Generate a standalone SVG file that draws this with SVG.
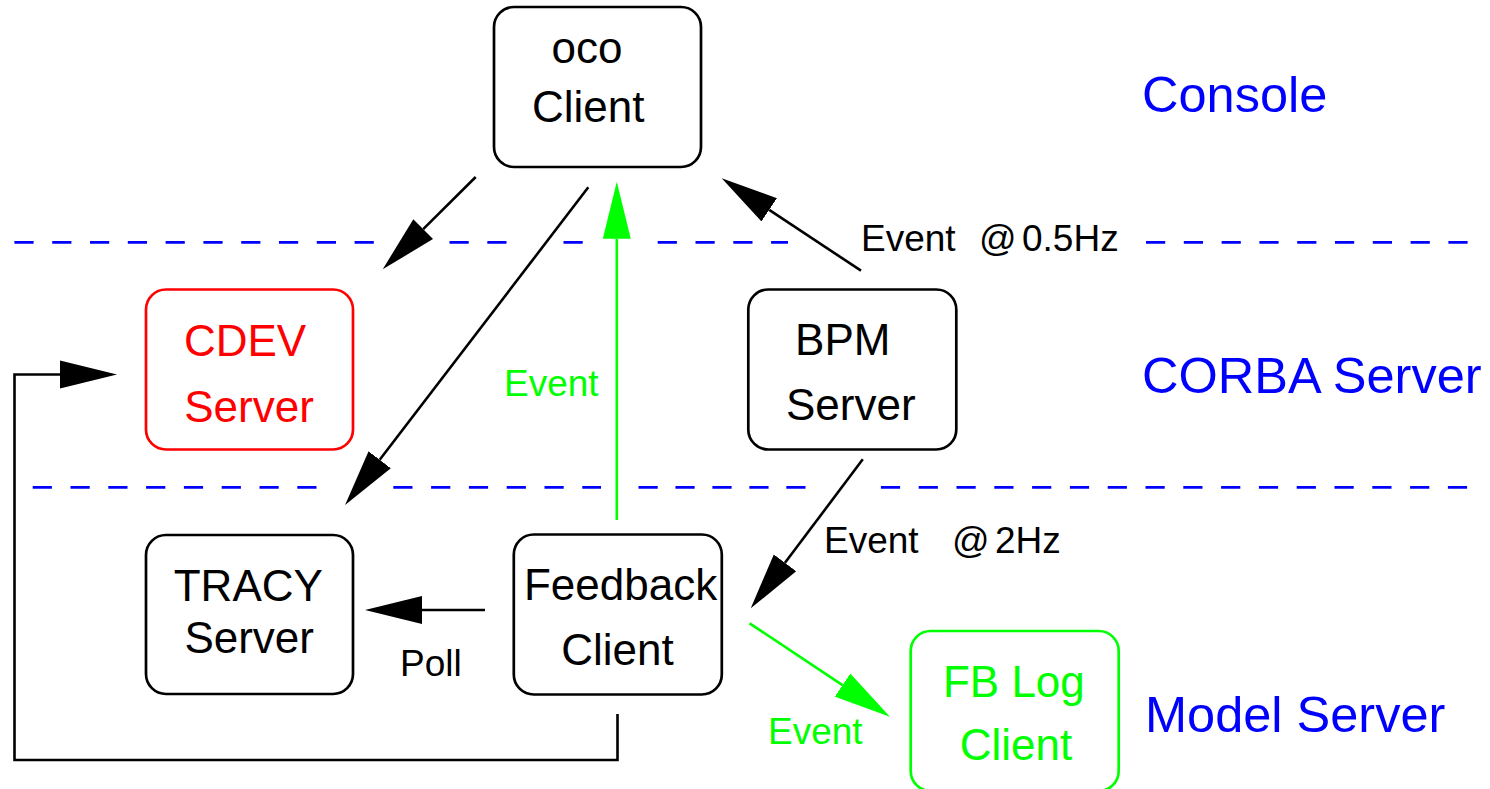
<svg xmlns="http://www.w3.org/2000/svg" width="1490" height="789" viewBox="0 0 1490 789">
<style>
  text { font-family: "Liberation Sans", Arial, Helvetica, sans-serif; }
  .box { fill: #ffffff; stroke-width: 2.7; }
  .node { font-size: 44px; text-anchor: middle; }
  .region { font-size: 50.5px; fill: #0000ff; }
  .lbl { font-size: 37px; }
  .dash { stroke: #0000ff; stroke-width: 2.7; fill: none; stroke-dasharray: 19.2 18.6; }
  .conn { stroke: #000000; stroke-width: 2.6; fill: none; }
  .gconn { stroke: #00ff00; stroke-width: 2.6; fill: none; }
</style>
<defs>
  <marker id="ah" markerUnits="userSpaceOnUse" markerWidth="58" markerHeight="29" viewBox="0 0 58 29" refX="0" refY="14.5" orient="auto">
    <path d="M0,0.5 L57,14.5 L0,28.5 Z" fill="#000000"/>
  </marker>
  <marker id="ahg" markerUnits="userSpaceOnUse" markerWidth="58" markerHeight="29" viewBox="0 0 58 29" refX="0" refY="14.5" orient="auto">
    <path d="M0,0.5 L57,14.5 L0,28.5 Z" fill="#00ff00"/>
  </marker>
</defs>
<rect width="1490" height="789" fill="#ffffff"/>

<g id="separators">
  <path class="dash" d="M14.4,242.3 H374 M449.5,242.3 H506.7 M563.5,242.3 H582.7 M657.7,242.3 H788 M1146,242.3 H1467.6"/>
  <path class="dash" d="M32.7,487.3 H317.3 M393.3,487.3 H601 M880.9,487.3 H1467.4"/>
  <path class="dash" style="stroke-dasharray:19.2 17.75" d="M638.5,487.3 H805.5"/>
</g>

<g id="regions">
  <text class="region" x="1142" y="111.5">Console</text>
  <text class="region" x="1142" y="393.3">CORBA Server</text>
  <text class="region" x="1145" y="732.3">Model Server</text>
</g>

<g id="connectors">
  <line class="conn" x1="475.7" y1="177" x2="423.2" y2="229.1" marker-end="url(#ah)"/>
  <line class="conn" x1="588.3" y1="187.3" x2="379.7" y2="459.8" marker-end="url(#ah)"/>
  <line class="gconn" x1="616.8" y1="520" x2="616.8" y2="238.7" marker-end="url(#ahg)"/>
  <line class="conn" x1="861" y1="270.7" x2="769.2" y2="209.8" marker-end="url(#ah)"/>
  <line class="conn" x1="862.8" y1="459.3" x2="785" y2="562.8" marker-end="url(#ah)"/>
  <line class="conn" x1="485" y1="610" x2="422" y2="610" marker-end="url(#ah)"/>
  <line class="gconn" x1="749.6" y1="623.3" x2="842.5" y2="685.1" marker-end="url(#ahg)"/>
  <polyline class="conn" points="617.5,714 617.5,760 14.5,760 14.5,374.5 60,374.5" marker-end="url(#ah)"/>
  <text class="lbl" x="861" y="251"><tspan>Event</tspan><tspan x="979">@</tspan><tspan x="1022">0.5Hz</tspan></text>
  <text class="lbl" x="504" y="396" fill="#00ff00">Event</text>
  <text class="lbl" x="824" y="553"><tspan>Event</tspan><tspan x="952">@</tspan><tspan x="995">2Hz</tspan></text>
  <text class="lbl" x="400" y="676">Poll</text>
  <text class="lbl" x="768" y="744" fill="#00ff00">Event</text>
</g>

<g id="oco-client">
  <rect class="box" x="494" y="7" width="207" height="160" rx="20" stroke="#000000"/>
  <text class="node" x="587" y="63.3">oco</text>
  <text class="node" x="588.3" y="121.7">Client</text>
</g>

<g id="cdev-server">
  <rect class="box" x="146" y="289.5" width="207" height="160" rx="20" stroke="#ff0000"/>
  <text class="node" x="245" y="356" fill="#ff0000">CDEV</text>
  <text class="node" x="249" y="421.7" fill="#ff0000">Server</text>
</g>

<g id="bpm-server">
  <rect class="box" x="748.3" y="289.5" width="208" height="160" rx="20" stroke="#000000"/>
  <text class="node" x="842.8" y="355">BPM</text>
  <text class="node" x="850.8" y="420">Server</text>
</g>

<g id="tracy-server">
  <rect class="box" x="146" y="535" width="207" height="159" rx="20" stroke="#000000"/>
  <text class="node" x="248.3" y="600.7">TRACY</text>
  <text class="node" x="249.2" y="653.3">Server</text>
</g>

<g id="feedback-client">
  <rect class="box" x="513.8" y="534.5" width="208" height="160" rx="20" stroke="#000000"/>
  <text class="node" x="620.6" y="600">Feedback</text>
  <text class="node" x="617.5" y="665">Client</text>
</g>

<g id="fblog-client">
  <rect class="box" x="910.7" y="631" width="208" height="160" rx="20" stroke="#00ff00"/>
  <text class="node" x="1013.9" y="696.7" fill="#00ff00">FB Log</text>
  <text class="node" x="1015.9" y="760" fill="#00ff00">Client</text>
</g>
</svg>
